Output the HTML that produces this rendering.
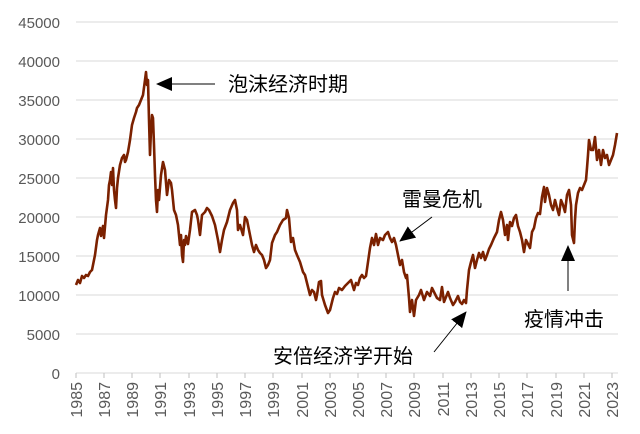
<!DOCTYPE html>
<html><head><meta charset="utf-8"><style>
body{margin:0;background:#fff;}
svg{display:block;font-family:"Liberation Sans","Noto Sans CJK SC",sans-serif;}
</style></head><body>
<svg width="640" height="434" viewBox="0 0 640 434">
<defs>
<marker id="ah2" markerWidth="16" markerHeight="14" refX="15" refY="7" orient="auto" markerUnits="userSpaceOnUse"><path d="M0,0 L16,7 L0,14 z" fill="#000"/></marker></defs>
<g stroke="#d9d9d9" stroke-width="1">
<line x1="76" x2="618" y1="22" y2="22"/><line x1="76" x2="618" y1="61" y2="61"/><line x1="76" x2="618" y1="100" y2="100"/><line x1="76" x2="618" y1="139" y2="139"/><line x1="76" x2="618" y1="178" y2="178"/><line x1="76" x2="618" y1="217" y2="217"/><line x1="76" x2="618" y1="256" y2="256"/><line x1="76" x2="618" y1="295" y2="295"/><line x1="76" x2="618" y1="334" y2="334"/><line x1="76" x2="618" y1="373" y2="373"/>
</g>
<g stroke="#bfbfbf"><line x1="76" x2="76" y1="373" y2="378"/><line x1="104" x2="104" y1="373" y2="378"/><line x1="132" x2="132" y1="373" y2="378"/><line x1="160" x2="160" y1="373" y2="378"/><line x1="189" x2="189" y1="373" y2="378"/><line x1="217" x2="217" y1="373" y2="378"/><line x1="245" x2="245" y1="373" y2="378"/><line x1="273" x2="273" y1="373" y2="378"/><line x1="302" x2="302" y1="373" y2="378"/><line x1="330" x2="330" y1="373" y2="378"/><line x1="358" x2="358" y1="373" y2="378"/><line x1="386" x2="386" y1="373" y2="378"/><line x1="414" x2="414" y1="373" y2="378"/><line x1="443" x2="443" y1="373" y2="378"/><line x1="471" x2="471" y1="373" y2="378"/><line x1="499" x2="499" y1="373" y2="378"/><line x1="527" x2="527" y1="373" y2="378"/><line x1="556" x2="556" y1="373" y2="378"/><line x1="584" x2="584" y1="373" y2="378"/><line x1="612" x2="612" y1="373" y2="378"/></g>
<g fill="#595959" font-size="15" text-anchor="end">
<text x="60" y="28">45000</text><text x="60" y="67">40000</text><text x="60" y="106">35000</text><text x="60" y="145">30000</text><text x="60" y="184">25000</text><text x="60" y="223">20000</text><text x="60" y="262">15000</text><text x="60" y="301">10000</text><text x="60" y="340">5000</text><text x="60" y="379">0</text>
</g>
<g fill="#595959" font-size="16" text-anchor="end">
<text transform="translate(82,382) rotate(-90)">1985</text><text transform="translate(110,382) rotate(-90)">1987</text><text transform="translate(138,382) rotate(-90)">1989</text><text transform="translate(166,382) rotate(-90)">1991</text><text transform="translate(195,382) rotate(-90)">1993</text><text transform="translate(223,382) rotate(-90)">1995</text><text transform="translate(251,382) rotate(-90)">1997</text><text transform="translate(279,382) rotate(-90)">1999</text><text transform="translate(308,382) rotate(-90)">2001</text><text transform="translate(336,382) rotate(-90)">2003</text><text transform="translate(364,382) rotate(-90)">2005</text><text transform="translate(392,382) rotate(-90)">2007</text><text transform="translate(420,382) rotate(-90)">2009</text><text transform="translate(449,382) rotate(-90)">2011</text><text transform="translate(477,382) rotate(-90)">2013</text><text transform="translate(505,382) rotate(-90)">2015</text><text transform="translate(533,382) rotate(-90)">2017</text><text transform="translate(562,382) rotate(-90)">2019</text><text transform="translate(590,382) rotate(-90)">2021</text><text transform="translate(618,382) rotate(-90)">2023</text>
</g>
<polyline fill="none" stroke="#7b2100" stroke-width="2.6" stroke-linejoin="round" points="76,285 78,280 80,283 82,276 84,278 86,275 88,276 90,272 92,270 95,255 97,240 98,235 100,228 101,236 103,226 104,238 106,215 108,200 109,185 110,180 111,172 112,185 113,168 114,190 115,200 116,208 117,188 118,178 120,165 122,158 124,155 125,162 126,160 128,152 130,140 132,125 134,118 136,112 137,108 139,105 141,100 143,95 145,80 146,72 147,85 148,80 149,120 150,155 151,130 152,115 153,118 154,145 155,175 156,200 157,212 158,190 159,200 161,175 163,162 165,170 167,195 169,180 171,183 172,190 174,210 176,215 178,225 180,245 181,235 182,255 183,262 184,240 185,245 186,236 188,244 190,230 192,212 195,210 197,215 198,220 200,235 202,215 205,212 207,208 209,210 212,216 215,225 218,240 220,252 222,240 224,230 227,222 230,210 233,203 235,200 237,210 238,230 240,225 243,235 245,217 247,220 250,235 252,245 254,252 256,245 258,250 260,253 262,255 264,260 266,268 268,265 270,260 272,243 275,235 277,232 280,225 283,220 286,218 287,210 289,218 291,242 293,238 295,250 297,255 300,262 303,272 305,275 308,287 310,295 312,290 314,292 316,300 317,295 319,282 321,281 322,295 325,305 328,313 330,310 333,298 335,292 337,294 339,288 342,290 345,286 348,283 351,280 354,290 356,283 358,285 360,278 362,275 364,278 366,276 368,262 370,248 372,238 374,245 376,234 378,245 380,238 383,240 385,235 388,232 390,238 392,242 394,238 396,245 398,255 400,265 402,260 404,272 406,278 407,275 409,298 410,312 412,300 414,316 416,300 419,295 421,290 424,300 427,292 430,296 432,288 434,292 437,298 440,300 442,287 444,302 446,297 448,292 450,298 453,305 455,302 458,296 460,302 462,304 464,300 466,303 467,290 469,270 471,262 473,255 475,268 477,260 479,253 481,258 483,252 485,260 487,255 489,249 491,245 494,238 497,232 499,220 501,212 503,220 505,235 507,225 508,240 510,222 512,226 514,218 516,215 518,226 520,232 522,240 524,252 526,240 528,244 530,248 532,232 534,228 536,218 538,213 540,214 542,197 544,187 545,202 547,188 549,195 551,205 553,210 555,200 557,208 559,215 561,200 563,205 565,212 567,195 569,190 571,205 572,235 574,243 575,220 576,205 578,193 580,188 582,190 584,185 586,180 587,168 588,155 589,140 591,150 593,150 595,137 597,160 599,150 601,165 603,150 605,158 607,155 609,165 611,160 613,155 615,145 617,133"/>
<g fill="#000" font-size="20">
<text x="228" y="91">泡沫经济时期</text>
<text x="402" y="206">雷曼危机</text>
<text x="273" y="363">安倍经济学开始</text>
<text x="524" y="326">疫情冲击</text>
</g>
<g stroke="#000" stroke-width="1">
<line x1="215" y1="84" x2="157" y2="84" marker-end="url(#ah2)"/>
<line x1="432" y1="217" x2="400" y2="241" marker-end="url(#ah2)"/>
<line x1="434" y1="352" x2="466" y2="312" marker-end="url(#ah2)"/>
<line x1="568" y1="291" x2="568" y2="246" marker-end="url(#ah2)"/>
</g>
</svg>
</body></html>
